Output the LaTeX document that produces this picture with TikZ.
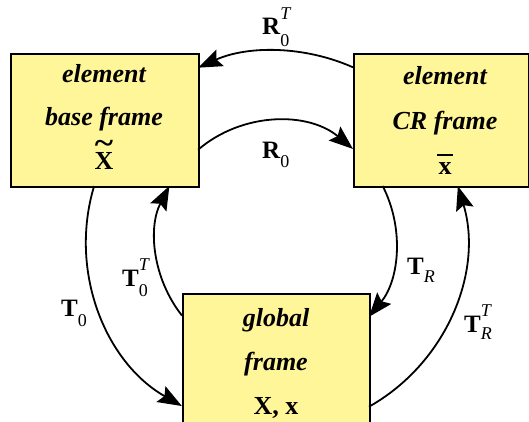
\documentclass[tikz,border=0pt]{standalone}
\usepackage{amsmath}
\usepackage{graphicx}
\usepackage{fontspec}
\setmainfont{Liberation Serif}
\usetikzlibrary{arrows.meta,calc}
\definecolor{boxyellow}{RGB}{255,245,153}
\newcommand{\lsub}[2]{\rlap{\raisebox{-#1}{\fontsize{18}{18}\selectfont #2}}}
\newcommand{\lsup}[2]{\raisebox{#1}{\fontsize{18}{18}\selectfont #2}}
\begin{document}
\begin{tikzpicture}[x=1pt,y=1pt,
  box/.style={draw=black, line width=1.6pt, fill=boxyellow, inner sep=0pt, anchor=north west},
  boxtxt/.style={anchor=base, inner sep=0pt, font=\fontsize{26}{30}\selectfont\bfseries\itshape},
  symtxt/.style={anchor=base, inner sep=0pt, font=\fontsize{26}{30}\selectfont\bfseries},
  lbl/.style={anchor=base west, inner sep=0pt, font=\fontsize{25}{30}\selectfont},
  arr/.style={line width=1.8pt, -{Stealth[length=24pt,width=18pt,inset=4pt]}}
]
\useasboundingbox (0,0) rectangle (529,422);
\clip (0,0) rectangle (529,422);
\node[box, minimum width=188pt, minimum height=133pt] (base) at (10,369) {};
\node[box, minimum width=175pt, minimum height=133pt] (cr) at (353,369) {};
\node[box, minimum width=187pt, minimum height=160pt] (glob) at (182,129) {};

\node[boxtxt] (b1) at (104,339) {element};
\node[boxtxt] (b2) at (104,296) {base frame};
\node[symtxt] (b3) at (104,252) {\ooalign{X\cr\hidewidth\raisebox{16pt}{\scalebox{1.35}[1.2]{\textasciitilde}}\hidewidth\cr}};
\node[boxtxt] (c1) at (445,337) {element};
\node[boxtxt] (c2) at (445,292) {CR frame};
\node[symtxt] (c3) at (445,247) {\ooalign{x\cr\hidewidth\raisebox{19pt}{\rule{16pt}{1.8pt}}\hidewidth\cr}};
\node[boxtxt] (g1) at (276,95) {global};
\node[boxtxt] (g2) at (276,51) {frame};
\node[symtxt] (g3) at (276,7) {X, x};

\coordinate (C) at (276,181);
\draw[arr] ($(C)+(66.1:190pt)$) arc[start angle=66.1,end angle=114.2,radius=190pt];
\draw[arr] ($(C)+(130.5:120pt)$) arc[start angle=130.5,end angle=50.1,radius=120pt];
\draw[arr] ($(C)+(163.2:190pt)$) arc[start angle=163.2,end angle=240.3,radius=190pt];
\draw[arr] ($(C)+(218.4:120pt)$) arc[start angle=218.4,end angle=152.7,radius=120pt];
\draw[arr] ($(C)+(27.3:120pt)$) arc[start angle=27.3,end angle=-39.2,radius=120pt];
\draw[arr] ($(C)+(-60.7:190pt)$) arc[start angle=-60.7,end angle=16.8,radius=190pt];

\node[lbl] (lR0T) at (262,387) {\textbf{R}\lsub{12pt}{0}\lsup{15pt}{\itshape T}};
\node[lbl] (lR0) at (262,263) {\textbf{R}\lsub{9pt}{0}};
\node[lbl] (lT0) at (61,105) {\textbf{T}\lsub{10pt}{0}};
\node[lbl] (lT0T) at (122,135) {\textbf{T}\lsub{10pt}{0}\lsup{16pt}{\itshape T}};
\node[lbl] (lTR) at (407,147) {\textbf{T}\lsub{8pt}{\itshape R}};
\node[lbl] (lTRT) at (464,89) {\textbf{T}\lsub{7pt}{\itshape R}\lsup{16pt}{\itshape T}};
\end{tikzpicture}
\end{document}
